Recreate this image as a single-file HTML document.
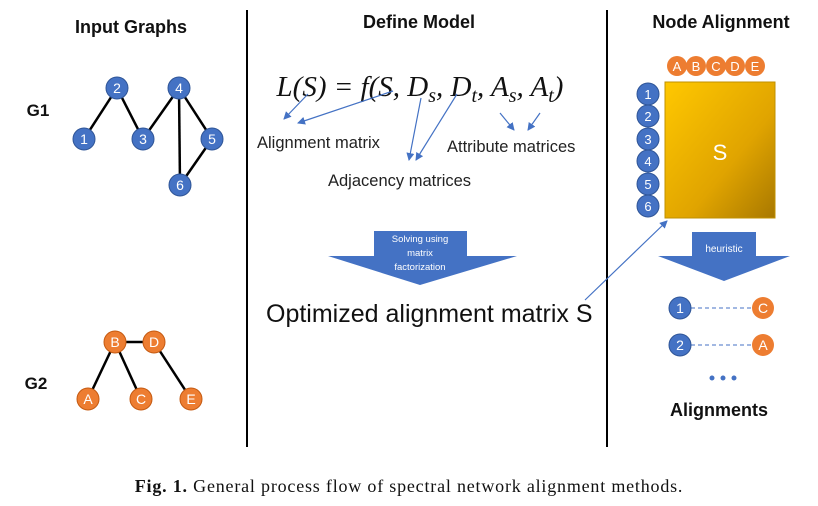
<!DOCTYPE html>
<html><head><meta charset="utf-8"><style>
body{margin:0;background:#fff;}
svg{display:block;font-family:"Liberation Sans",sans-serif;}
</style></head><body>
<svg width="818" height="506" viewBox="0 0 818 506" xmlns="http://www.w3.org/2000/svg">
<defs>
<marker id="ah" markerWidth="8" markerHeight="8" refX="7" refY="4" orient="auto" markerUnits="userSpaceOnUse">
<path d="M0,0 L8,4 L0,8 z" fill="#4472c4"/></marker>
<linearGradient id="sg" x1="0" y1="0" x2="1" y2="1">
<stop offset="0" stop-color="#ffc800"/><stop offset="0.6" stop-color="#e0a400"/><stop offset="1" stop-color="#a87800"/></linearGradient>
</defs>
<line x1="247" y1="10" x2="247" y2="447" stroke="#000" stroke-width="2"/>
<line x1="607" y1="10" x2="607" y2="447" stroke="#000" stroke-width="2"/>
<g font-weight="bold" font-size="18" text-anchor="middle" fill="#111">
<text x="131" y="33">Input Graphs</text>
<text x="419" y="28">Define Model</text>
<text x="721" y="28">Node Alignment</text>
<text x="38" y="116" font-size="17">G1</text>
<text x="36" y="389" font-size="17">G2</text>
<text x="719" y="416">Alignments</text>
</g>
<g stroke="#000" stroke-width="2.5">
<line x1="84" y1="139" x2="117" y2="88"/><line x1="117" y1="88" x2="143" y2="139"/>
<line x1="143" y1="139" x2="179" y2="88"/><line x1="179" y1="88" x2="212" y2="139"/>
<line x1="179" y1="88" x2="180" y2="185"/><line x1="212" y1="139" x2="180" y2="185"/>
<line x1="115" y1="342" x2="154" y2="342"/><line x1="115" y1="342" x2="88" y2="399"/>
<line x1="115" y1="342" x2="141" y2="399"/><line x1="154" y1="342" x2="191" y2="399"/>
</g>
<g font-size="14" fill="#fff" text-anchor="middle">
<g fill="#4472c4" stroke="#2f5597" stroke-width="1">
<circle cx="84" cy="139" r="11"/><circle cx="117" cy="88" r="11"/><circle cx="143" cy="139" r="11"/>
<circle cx="179" cy="88" r="11"/><circle cx="212" cy="139" r="11"/><circle cx="180" cy="185" r="11"/>
</g>
<text x="84" y="144">1</text><text x="117" y="93">2</text><text x="143" y="144">3</text>
<text x="179" y="93">4</text><text x="212" y="144">5</text><text x="180" y="190">6</text>
<g fill="#ed7d31" stroke="#c55a11" stroke-width="1">
<circle cx="115" cy="342" r="11"/><circle cx="154" cy="342" r="11"/><circle cx="88" cy="399" r="11"/>
<circle cx="141" cy="399" r="11"/><circle cx="191" cy="399" r="11"/>
</g>
<text x="115" y="347">B</text><text x="154" y="347">D</text><text x="88" y="404">A</text>
<text x="141" y="404">C</text><text x="191" y="404">E</text>
</g>
<text x="420" y="96" text-anchor="middle" font-family="Liberation Serif,serif" font-style="italic" font-size="29" fill="#111">L(S) = f(S, D<tspan font-size="20" dy="6">s</tspan><tspan dy="-6">, D</tspan><tspan font-size="20" dy="6">t</tspan><tspan dy="-6">, A</tspan><tspan font-size="20" dy="6">s</tspan><tspan dy="-6">, A</tspan><tspan font-size="20" dy="6">t</tspan><tspan dy="-6">)</tspan></text>
<g stroke="#4472c4" stroke-width="1.2" marker-end="url(#ah)">
<line x1="308" y1="94" x2="284" y2="119"/>
<line x1="393" y1="91" x2="298" y2="123"/>
<line x1="421" y1="98" x2="409" y2="160"/>
<line x1="457" y1="94" x2="416" y2="160"/>
<line x1="500" y1="113" x2="514" y2="130"/>
<line x1="540" y1="113" x2="528" y2="130"/>
<line x1="585" y1="300" x2="667" y2="221"/>
</g>
<g font-size="16.5" fill="#222">
<text x="257" y="148">Alignment matrix</text>
<text x="447" y="152">Attribute matrices</text>
<text x="328" y="186">Adjacency matrices</text>
</g>
<path d="M374,231 H467 V256 H517 L420,285 L328,256 H374 Z" fill="#4472c4"/>
<g font-size="9.5" fill="#fff" text-anchor="middle">
<text x="420" y="242">Solving using</text><text x="420" y="256">matrix</text><text x="420" y="270">factorization</text>
</g>
<text x="266" y="322" font-size="25" fill="#111">Optimized alignment matrix S</text>
<rect x="665" y="82" width="110" height="136" fill="url(#sg)" stroke="#c09000" stroke-width="1"/>
<text x="720" y="160" font-size="22" fill="#fff" text-anchor="middle">S</text>
<g font-size="13" fill="#fff" text-anchor="middle">
<g fill="#ed7d31"><circle cx="677" cy="66" r="10"/><circle cx="696" cy="66" r="10"/><circle cx="716" cy="66" r="10"/><circle cx="735" cy="66" r="10"/><circle cx="755" cy="66" r="10"/></g>
<text x="677" y="71">A</text><text x="696" y="71">B</text><text x="716" y="71">C</text><text x="735" y="71">D</text><text x="755" y="71">E</text>
<g fill="#4472c4" stroke="#2f5597"><circle cx="648" cy="94" r="11"/><circle cx="648" cy="116" r="11"/><circle cx="648" cy="139" r="11"/><circle cx="648" cy="161" r="11"/><circle cx="648" cy="184" r="11"/><circle cx="648" cy="206" r="11"/></g>
<text x="648" y="99">1</text><text x="648" y="121">2</text><text x="648" y="144">3</text><text x="648" y="166">4</text><text x="648" y="189">5</text><text x="648" y="211">6</text>
</g>
<path d="M692,232 H756 V256 H790 L724,281 L658,256 H692 Z" fill="#4472c4"/>
<text x="724" y="252" font-size="10" fill="#fff" text-anchor="middle">heuristic</text>
<g stroke="#4472c4" stroke-dasharray="4,3" stroke-width="1"><line x1="691" y1="308" x2="752" y2="308"/><line x1="691" y1="345" x2="752" y2="345"/></g>
<g font-size="14" fill="#fff" text-anchor="middle">
<circle cx="680" cy="308" r="11" fill="#4472c4" stroke="#2f5597"/><circle cx="680" cy="345" r="11" fill="#4472c4" stroke="#2f5597"/>
<circle cx="763" cy="308" r="11" fill="#ed7d31"/><circle cx="763" cy="345" r="11" fill="#ed7d31"/>
<text x="680" y="313">1</text><text x="680" y="350">2</text><text x="763" y="313">C</text><text x="763" y="350">A</text>
</g>
<g fill="#4472c4"><circle cx="712" cy="378" r="2.5"/><circle cx="723" cy="378" r="2.5"/><circle cx="734" cy="378" r="2.5"/></g>
<text x="409" y="492" font-family="Liberation Serif,serif" font-size="18" letter-spacing="0.8" text-anchor="middle" fill="#111"><tspan font-weight="bold">Fig. 1.</tspan>  General process flow of spectral network alignment methods.</text>
</svg>
</body></html>
